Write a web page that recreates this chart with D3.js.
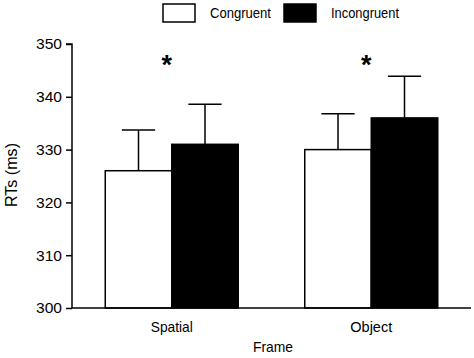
<!DOCTYPE html>
<html><head><meta charset="utf-8">
<script src="https://cdn.jsdelivr.net/npm/d3@7"></script>
<style>body{margin:0;background:#fff}svg{display:block}text{font-family:"Liberation Sans",Arial,sans-serif;fill:#000}</style>
</head><body>
<script>
const frames = ["Spatial", "Object"];
const conditions = ["Congruent", "Incongruent"];
const congruentMeans = [326, 330];
const incongruentMeans = [331, 336];
const congruentErr = [7.7, 6.8];
const incongruentErr = [7.6, 7.9];
const yTicks = [300, 310, 320, 330, 340, 350];
const significance = ["*", "*"];

(function () {
const W = 474, H = 358;
const svg = d3.select("body").append("svg").attr("width", W).attr("height", H);
const mLeft = 72, mRight = 471, mTop = 44, mBottom = 308;

const x0 = d3.scaleBand().domain(frames).range([mLeft, mRight]).paddingInner(1/3).paddingOuter(1/6);
const x1 = d3.scaleBand().domain(conditions).range([0, x0.bandwidth()]);
const y = d3.scaleLinear().domain([300, 350]).range([mBottom, mTop]);
const fill = d3.scaleOrdinal().domain(conditions).range(["#fff", "#000"]);

const data = [];
frames.forEach((f, i) => {
  data.push({frame: f, cond: "Congruent", v: congruentMeans[i], e: congruentErr[i]});
  data.push({frame: f, cond: "Incongruent", v: incongruentMeans[i], e: incongruentErr[i]});
});

const g = svg.append("g");
const bw = x1.bandwidth();
data.forEach(d => {
  const cx = x0(d.frame) + x1(d.cond) + bw / 2;
  g.append("line").attr("x1", cx).attr("x2", cx).attr("y1", y(d.v)).attr("y2", y(d.v + d.e))
    .attr("stroke", "#000").attr("stroke-width", 1.5);
  g.append("line").attr("x1", cx - bw / 4).attr("x2", cx + bw / 4).attr("y1", y(d.v + d.e)).attr("y2", y(d.v + d.e))
    .attr("stroke", "#000").attr("stroke-width", 1.5);
});
g.selectAll("rect.bar").data(data).join("rect").attr("class", "bar")
  .attr("x", d => x0(d.frame) + x1(d.cond))
  .attr("y", d => y(d.v))
  .attr("width", bw)
  .attr("height", d => y(300) - y(d.v))
  .attr("fill", d => fill(d.cond))
  .attr("stroke", "#000").attr("stroke-width", 1.5);

const yAxis = d3.axisLeft(y).tickValues(yTicks).tickSize(6).tickPadding(4).tickFormat(d3.format("d"));
const ya = svg.append("g").attr("transform", `translate(${mLeft},0)`).call(yAxis);
ya.select(".domain").attr("stroke-width", 1.5).attr("d", `M-6,${mTop}H0V${mBottom}`);
ya.selectAll(".tick line").attr("stroke-width", 1.5);
ya.selectAll("text").style("font-size", "15.5px").attr("font-family", null)
  .attr("textLength", 26).attr("lengthAdjust", "spacingAndGlyphs");

const xAxis = d3.axisBottom(x0).tickSize(0).tickPadding(13);
const xa = svg.append("g").attr("transform", `translate(0,${mBottom})`).call(xAxis);
xa.select(".domain").attr("stroke-width", 1.5).attr("d", `M${mLeft},0H${mRight}`);
xa.selectAll("text").style("font-size", "15px").attr("font-family", null)
  .attr("textLength", 42).attr("lengthAdjust", "spacingAndGlyphs");

svg.append("text").attr("x", 273).attr("y", 352).attr("text-anchor", "middle")
  .style("font-size", "15px").attr("textLength", 40).attr("lengthAdjust", "spacingAndGlyphs").text("Frame");
svg.append("text").attr("transform", `translate(17,175) rotate(-90)`).attr("text-anchor", "middle")
  .style("font-size", "16px").attr("textLength", 64).attr("lengthAdjust", "spacingAndGlyphs").text("RTs (ms)");

frames.forEach((f, i) => {
  svg.append("text").attr("x", x0(f) + x0.bandwidth() / 2 - 5).attr("y", 74).attr("text-anchor", "middle")
    .style("font-size", "27px").style("font-weight", "bold").text(significance[i]);
});

const legX = [163, 284], legTextX = [210, 331], legW = [61, 68];
conditions.forEach((c, i) => {
  svg.append("rect").attr("x", legX[i]).attr("y", 4).attr("width", 32).attr("height", 18)
    .attr("fill", fill(c)).attr("stroke", "#000").attr("stroke-width", 1.5);
  svg.append("text").attr("x", legTextX[i]).attr("y", 18).style("font-size", "15px")
    .attr("textLength", legW[i]).attr("lengthAdjust", "spacingAndGlyphs").text(c);
});
})();
</script>
</body></html>
